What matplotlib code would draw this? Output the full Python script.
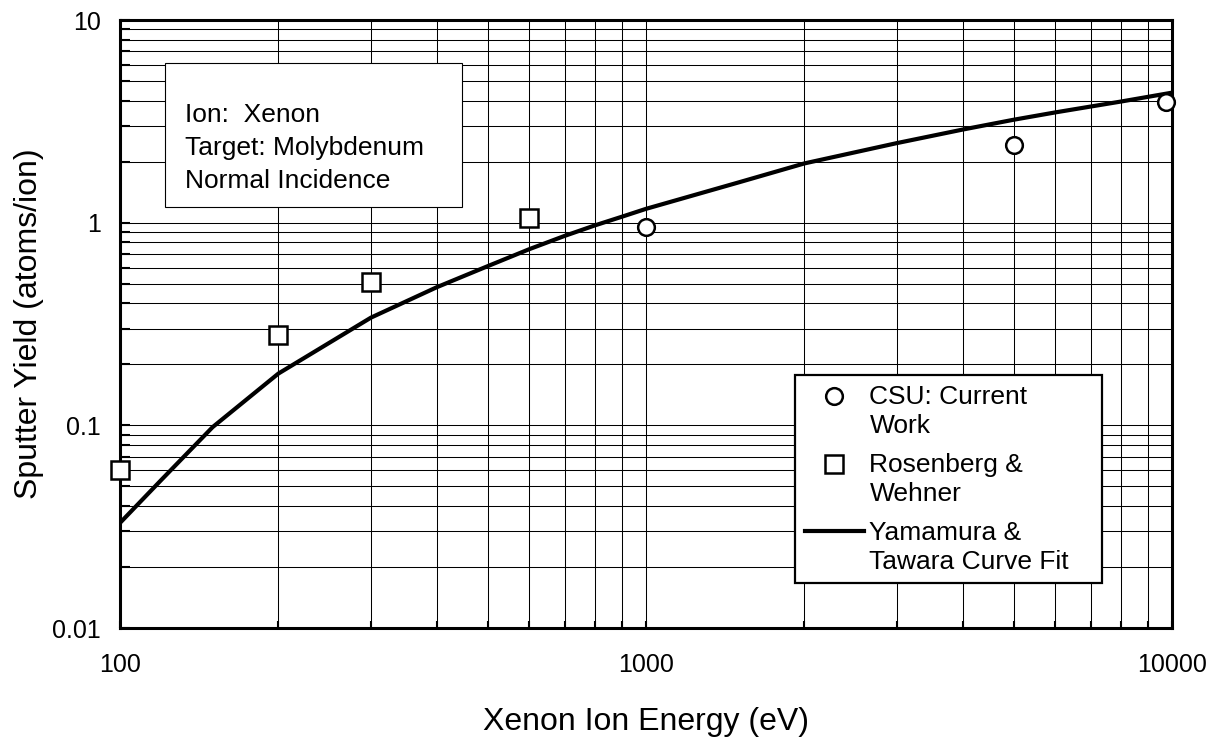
import matplotlib
matplotlib.use("Agg")
import numpy as np
import matplotlib.pyplot as plt
from matplotlib.ticker import LogLocator, NullFormatter
from matplotlib.patches import Rectangle
from matplotlib.lines import Line2D

plt.rcParams['font.family'] = ['Liberation Sans', 'DejaVu Sans']

# ---- data ----
csu_energy = [1000, 5000, 9750]
csu_yield = [0.95, 2.42, 3.95]

rw_energy = [100, 200, 300, 600]
rw_yield = [0.060, 0.28, 0.51, 1.06]

yt_energy = [100, 120, 150, 200, 300, 400, 500, 600, 700, 800, 900, 1000,
             1500, 2000, 3000, 4000, 5000, 6000, 7000, 8000, 10000]
yt_yield = [0.033, 0.054, 0.098, 0.18, 0.34, 0.48, 0.61, 0.74, 0.86, 0.97,
            1.07, 1.17, 1.58, 1.96, 2.47, 2.88, 3.22, 3.50, 3.74, 3.96, 4.38]

x_ticks = [100, 1000, 10000]
x_ticklabels = ['100', '1000', '10000']
y_ticks = [0.01, 0.1, 1, 10]
y_ticklabels = ['0.01', '0.1', '1', '10']

info_lines = ['Ion:  Xenon', 'Target: Molybdenum', 'Normal Incidence']
legend_labels = ['CSU: Current\nWork', 'Rosenberg &\nWehner',
                 'Yamamura &\nTawara Curve Fit']

# ---- figure ----
W, H = 1219, 737
fig = plt.figure(figsize=(W / 100, H / 100), dpi=100)
L, R, T, B = 120, 1172, 20, 628
ax = fig.add_axes([L / W, (H - B) / H, (R - L) / W, (B - T) / H])

ax.set_xscale('log')
ax.set_yscale('log')
ax.set_xlim(100, 10000)
ax.set_ylim(0.01, 10)

ax.set_xticks(x_ticks, x_ticklabels)
ax.set_yticks(y_ticks, y_ticklabels)
ax.xaxis.set_minor_locator(LogLocator(base=10, subs=range(2, 10)))
ax.yaxis.set_minor_locator(LogLocator(base=10, subs=range(2, 10)))
ax.xaxis.set_minor_formatter(NullFormatter())
ax.yaxis.set_minor_formatter(NullFormatter())

ax.grid(which='both', color='black', lw=0.75)
ax.set_axisbelow(True)

for s in ax.spines.values():
    s.set_linewidth(2.2)

ax.tick_params(axis='y', which='both', direction='in', length=7, width=1.5,
               labelsize=18, pad=14, right=False)
ax.tick_params(axis='x', which='both', direction='in', length=5, width=1.5,
               labelsize=18, pad=18, top=False)

# ---- data marks ----
ax.plot(yt_energy, yt_yield, color='black', lw=3, zorder=3,
        solid_capstyle='butt')
ax.plot(rw_energy, rw_yield, linestyle='none', marker='s', ms=12.5,
        mfc='white', mec='black', mew=1.8, zorder=4, clip_on=False)
ax.plot(csu_energy, csu_yield, linestyle='none', marker='o', ms=12,
        mfc='white', mec='black', mew=1.8, zorder=4, clip_on=False)

# ---- labels ----
ax.set_xlabel('Xenon Ion Energy (eV)', fontsize=23, va='baseline')
ax.xaxis.set_label_coords(0.5, (B - 730) / (B - T))
ax.set_ylabel('Sputter Yield (atoms/ion)', fontsize=23, va='baseline')
ax.yaxis.set_label_coords((37 - L) / (R - L), 0.5)

# ---- info box ----
bx0, by0, bx1, by1 = 165, 63, 462, 207
ax.add_patch(Rectangle(((bx0 - L) / (R - L), (B - by1) / (B - T)),
                       (bx1 - bx0) / (R - L), (by1 - by0) / (B - T),
                       transform=ax.transAxes, facecolor='white',
                       edgecolor='black', lw=0.8, zorder=5))
for line, base in zip(info_lines, [122, 155, 188]):
    ax.text((185 - L) / (R - L), (B - base) / (B - T), line,
            transform=ax.transAxes, fontsize=19, va='baseline', ha='left',
            zorder=6)

# ---- legend ----
handles = [
    Line2D([], [], linestyle='none', marker='o', ms=12, mfc='white',
           mec='black', mew=1.8),
    Line2D([], [], linestyle='none', marker='s', ms=12.5, mfc='white',
           mec='black', mew=1.8),
    Line2D([], [], color='black', lw=3),
]
lx0, ly0, lx1, ly1 = 795, 375, 1102, 585
leg = ax.legend(handles, legend_labels, loc='upper left', mode='expand',
                bbox_to_anchor=((lx0 - L) / (R - L), (B - ly1) / (B - T),
                                (lx1 - lx0) / (R - L), (ly1 - ly0) / (B - T)),
                borderaxespad=0, fontsize=19, frameon=True, fancybox=False,
                framealpha=1, edgecolor='black', borderpad=0.37,
                handlelength=2.25, handletextpad=0.2, labelspacing=0.56)
leg.get_frame().set_linewidth(1.6)
leg.set_zorder(7)
for t in leg.get_texts():
    t.set_linespacing(1.27)
# place each legend key beside the first line of its two-line label
for h in leg.legend_handles:
    yd = np.asarray(h.get_ydata(), dtype=float)
    h.set_ydata(yd + 11.5)

fig.savefig('out.png', dpi=100)
